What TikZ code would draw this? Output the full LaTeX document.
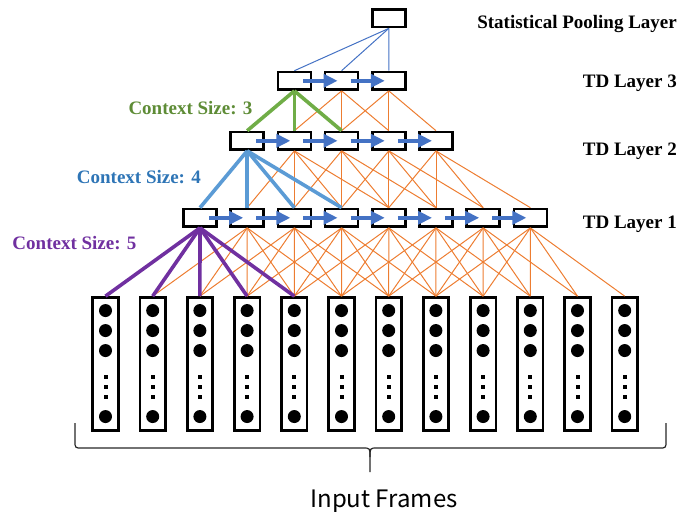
\documentclass[tikz,border=0pt]{standalone}
\usepackage{fontspec}
\setmainfont{Liberation Serif}
\newfontfamily\framefont{Noto Sans CJK SC}
\usetikzlibrary{arrows.meta}

\definecolor{linkorange}{HTML}{ED7D31}
\definecolor{ctxgreen}{HTML}{70AD47}
\definecolor{ctxblue}{HTML}{5B9BD5}
\definecolor{ctxpurple}{HTML}{7030A0}
\definecolor{flowblue}{HTML}{4472C4}
\definecolor{txtgreen}{HTML}{5E8C36}
\definecolor{txtblue}{HTML}{2E75B6}

\tikzset{
	tdbox/.style={draw, line width=2.7pt, fill=white, minimum width=33pt, minimum height=17.5pt, inner sep=0pt},
	framebox/.style={draw, line width=2.7pt, minimum width=25.5pt, minimum height=133pt, inner sep=0pt},
	link/.style={linkorange, line width=1pt},
	flow/.style={flowblue, line width=3.5pt, -{Triangle[length=14pt,width=13pt]}},
	layername/.style={font=\bfseries\fontsize{19}{19}\selectfont, anchor=base east, inner sep=0pt},
	ctxname/.style={font=\bfseries\fontsize{19}{19}\selectfont, anchor=base west, inner sep=0pt}
}

\begin{document}
\begin{tikzpicture}[x=1pt, y=-1pt]
	\useasboundingbox (0,0) rectangle (681,512);

	%input frames with their dots
	\foreach \i in {1,...,12} {
		\node[framebox] (in\i) at ({105.5+47.2*(\i-1)}, 364) {};
		\foreach \dy in {14.4,34.4,54.4,120.4}
			\fill ([yshift=-\dy pt]in\i.north) circle (6.5pt);
		\foreach \dy in {81,90.6,100.4}
			\fill ([yshift=-\dy pt]in\i.north) ++(-2,-2) rectangle ++(4,4);
	}

	%td layers and pooling layer
	\foreach \k in {1,...,8} \node[tdbox] (a\k) at ({200+47.2*(\k-1)}, 217.8) {};
	\foreach \k in {1,...,5} \node[tdbox] (b\k) at ({247.2+47.2*(\k-1)}, 140.8) {};
	\foreach \k in {1,...,3} \node[tdbox] (c\k) at ({294.4+47.2*(\k-1)}, 80.8) {};
	\node[tdbox] (pool) at (388.8, 18.3) {};

	%orange context links
	\foreach \k in {2,...,8} \foreach \j in {0,...,4} {
		\pgfmathtruncatemacro\f{\k+\j}
		\draw[link] (a\k.south) -- (in\f.north);
	}
	\foreach \k in {2,...,5} \foreach \j in {0,...,3} {
		\pgfmathtruncatemacro\f{\k+\j}
		\draw[link] (b\k.south) -- (a\f.north);
	}
	\foreach \k in {2,3} \foreach \j in {0,...,2} {
		\pgfmathtruncatemacro\f{\k+\j}
		\draw[link] (c\k.south) -- (b\f.north);
	}

	%highlighted context of the first unit
	\foreach \f in {1,...,5} \draw[ctxpurple, line width=3.6pt] (a1.south) -- (in\f.north);
	\foreach \f in {1,...,4} \draw[ctxblue, line width=3.6pt] (b1.south) -- (a\f.north);
	\foreach \f in {1,...,3} \draw[ctxgreen, line width=3.6pt] (c1.south) -- (b\f.north);

	%pooling over td layer 3
	\foreach \f in {1,...,3} \draw[flowblue, line width=1pt] (pool.south) -- (c\f.north);

	%arrows along each layer
	\foreach \k [count=\n from 2] in {1,...,7} \draw[flow] ([xshift=9pt]a\k.center) -- ([xshift=-4pt]a\n.center);
	\foreach \k [count=\n from 2] in {1,...,4} \draw[flow] ([xshift=9pt]b\k.center) -- ([xshift=-4pt]b\n.center);
	\foreach \k [count=\n from 2] in {1,...,2} \draw[flow] ([xshift=9pt]c\k.center) -- ([xshift=-4pt]c\n.center);

	%labels
	\node[layername] (poolname) at (677,28.3) {Statistical Pooling Layer};
	\node[layername] (td3name) at (677,87.3) {TD Layer 3};
	\node[layername] (td2name) at (677,155.7) {TD Layer 2};
	\node[layername] (td1name) at (677,228.3) {TD Layer 1};
	\node[ctxname, txtgreen] (ctx3) at (128.3,114.3) {Context Size: 3};
	\node[ctxname, txtblue] (ctx4) at (76.7,183.3) {Context Size: 4};
	\node[ctxname, ctxpurple] (ctx5) at (12.3,249) {Context Size: 5};

	%brace under the frames
	\draw[line width=1.2pt, black!85] (75,423) -- (75,441) .. controls (75,448) .. (82,448) -- (363,448) .. controls (370,448) .. (370,457) -- (370,472);
	\draw[line width=1.2pt, black!85] (370,457) .. controls (370,448) .. (377,448) -- (659,448) .. controls (666,448) .. (666,441) -- (666,423);
	\node[font=\framefont\fontsize{24}{24}\selectfont, anchor=base, inner sep=0pt] (frames) at (384,507) {Input Frames};
\end{tikzpicture}
\end{document}
